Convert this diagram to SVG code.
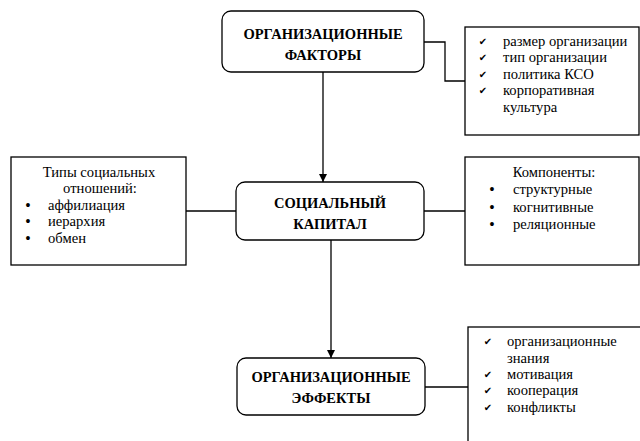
<svg xmlns="http://www.w3.org/2000/svg" width="640" height="441" viewBox="0 0 640 441" font-family="Liberation Serif, DejaVu Serif, serif">
<defs>
<style>
.box{fill:#fff;stroke:#000;stroke-width:1.3}
.ln{fill:none;stroke:#000;stroke-width:1.3}
.t{font-size:14.6px;fill:#000}
.h{font-size:14.5px;font-weight:bold;fill:#000;text-anchor:middle}
.c{text-anchor:middle}
.ck{font-size:10px;text-anchor:middle}
.b{font-size:14px;font-weight:bold;text-anchor:middle}
</style>
<marker id="arr" viewBox="0 0 8 8" refX="8" refY="4" markerWidth="8" markerHeight="8" markerUnits="userSpaceOnUse" orient="auto">
<path d="M0,0 L8,4 L0,8 Z" fill="#000"/>
</marker>
</defs>
<rect width="640" height="441" fill="#fff"/>
<g id="connectors">
<polyline class="ln" points="424,42 445,42 445,81 465,81"/>
<line class="ln" x1="323" y1="72" x2="323" y2="182" marker-end="url(#arr)"/>
<line class="ln" x1="186" y1="211" x2="236" y2="211"/>
<line class="ln" x1="424" y1="211" x2="465" y2="211"/>
<line class="ln" x1="331" y1="240" x2="331" y2="358" marker-end="url(#arr)"/>
<line class="ln" x1="425" y1="387" x2="468" y2="387"/>
</g>
<g id="org-factors">
<rect class="box" x="222" y="11" width="202" height="61" rx="9"/>
<text class="h" x="323" y="39">ОРГАНИЗАЦИОННЫЕ</text>
<text class="h" x="323" y="60">ФАКТОРЫ</text>
</g>
<g id="factors-list">
<rect class="box" x="465" y="27" width="174" height="108"/>
<text class="ck" x="483" y="45" font-family="DejaVu Sans">✔</text>
<text class="ck" x="483" y="61" font-family="DejaVu Sans">✔</text>
<text class="ck" x="483" y="78" font-family="DejaVu Sans">✔</text>
<text class="ck" x="483" y="94" font-family="DejaVu Sans">✔</text>
<text class="t" x="503" y="46">размер организации</text>
<text class="t" x="503" y="62">тип организации</text>
<text class="t" x="503" y="79">политика КСО</text>
<text class="t" x="503" y="95">корпоративная</text>
<text class="t" x="503" y="112">культура</text>
</g>
<g id="relation-types">
<rect class="box" x="11" y="157" width="175" height="108"/>
<text class="t c" x="99" y="177">Типы социальных</text>
<text class="t c" x="100" y="193">отношений:</text>
<text class="b" x="28" y="210">•</text>
<text class="b" x="28" y="226">•</text>
<text class="b" x="28" y="243">•</text>
<text class="t" x="48" y="210">аффилиация</text>
<text class="t" x="48" y="226">иерархия</text>
<text class="t" x="48" y="243">обмен</text>
</g>
<g id="social-capital">
<rect class="box" x="236" y="182" width="188" height="58" rx="9"/>
<text class="h" x="330" y="208">СОЦИАЛЬНЫЙ</text>
<text class="h" x="330" y="229">КАПИТАЛ</text>
</g>
<g id="components">
<rect class="box" x="465" y="157" width="174" height="108"/>
<text class="t c" x="554" y="177">Компоненты:</text>
<text class="b" x="492" y="194">•</text>
<text class="b" x="492" y="212">•</text>
<text class="b" x="492" y="229">•</text>
<text class="t" x="513" y="194">структурные</text>
<text class="t" x="513" y="212">когнитивные</text>
<text class="t" x="513" y="229">реляционные</text>
</g>
<g id="org-effects">
<rect class="box" x="237" y="358" width="188" height="57" rx="9"/>
<text class="h" x="331" y="382">ОРГАНИЗАЦИОННЫЕ</text>
<text class="h" x="331" y="403">ЭФФЕКТЫ</text>
</g>
<g id="effects-list">
<rect class="box" x="468" y="327" width="190" height="130"/>
<text class="ck" x="488" y="345" font-family="DejaVu Sans">✔</text>
<text class="ck" x="488" y="378" font-family="DejaVu Sans">✔</text>
<text class="ck" x="488" y="394" font-family="DejaVu Sans">✔</text>
<text class="ck" x="488" y="411" font-family="DejaVu Sans">✔</text>
<text class="t" x="507" y="346">организационные</text>
<text class="t" x="507" y="363">знания</text>
<text class="t" x="507" y="379">мотивация</text>
<text class="t" x="507" y="395">кооперация</text>
<text class="t" x="507" y="412">конфликты</text>
</g>
</svg>
